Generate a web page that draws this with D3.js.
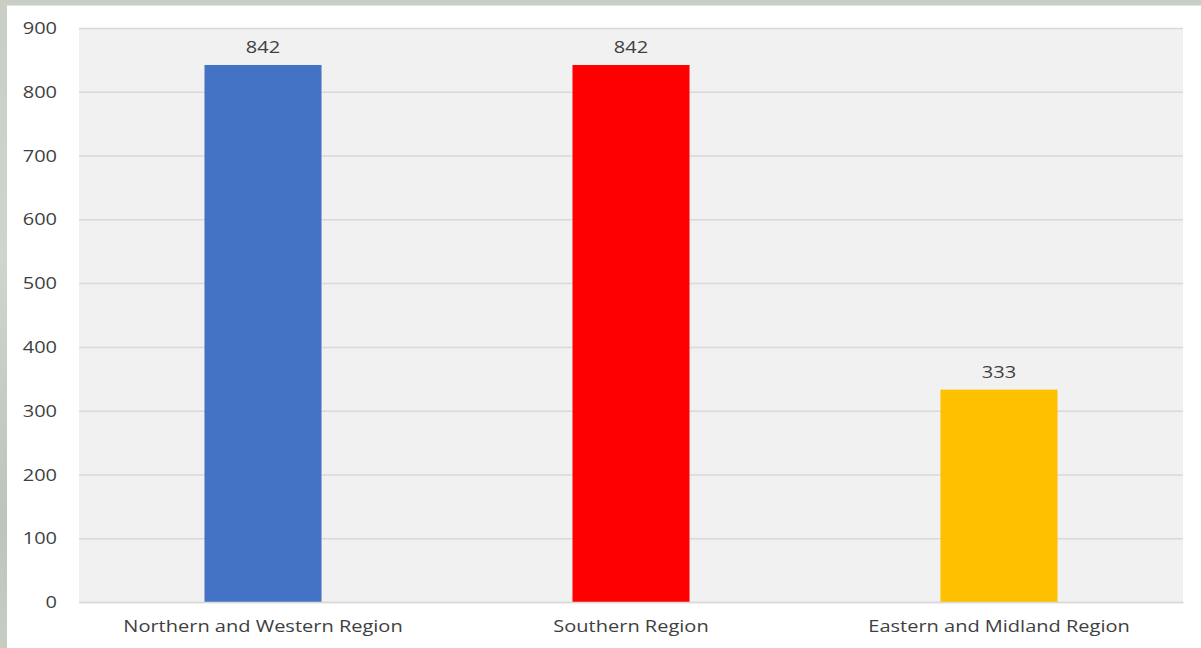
<!DOCTYPE html>
<html><head><meta charset="utf-8">
<script src="https://cdn.jsdelivr.net/npm/d3@7"></script>
<style>html,body{margin:0;padding:0;background:#fff;}svg{display:block;}</style>
</head><body>
<svg id="c" width="1201" height="648"></svg>
<script>
const categories = ["Northern and Western Region", "Southern Region", "Eastern and Midland Region"];
const values = [842, 842, 333];
const colors = ["#4472c4", "#ff0000", "#ffc000"];
const yTicks = [0, 100, 200, 300, 400, 500, 600, 700, 800, 900];

const svg = d3.select("#c");
const W = 1201, H = 648;
const m = {left: 79, right: 1183, top: 28, bottom: 602};
const SX = 1.25; // horizontal stretch of the text as seen in the reference
const FONT = "'Open Sans', sans-serif";

// photo-like border background
const defs = svg.append("defs");
const g1 = defs.append("linearGradient").attr("id","bg").attr("x1","0").attr("x2","0").attr("y1","0").attr("y2","1");
g1.append("stop").attr("offset","0").attr("stop-color","#c9cec5");
g1.append("stop").attr("offset","0.4").attr("stop-color","#cfd5cb");
g1.append("stop").attr("offset","0.8").attr("stop-color","#bfc4bb");
g1.append("stop").attr("offset","1").attr("stop-color","#c8cdc3");
svg.append("rect").attr("x",0).attr("y",0).attr("width",W).attr("height",H).attr("fill","url(#bg)");
svg.append("rect").attr("x",7).attr("y",5).attr("width",W-7).attr("height",H-5).attr("fill","#ffffff");
svg.append("line").attr("x1",7).attr("x2",W).attr("y1",5.5).attr("y2",5.5).attr("stroke","#e2e2e2").attr("stroke-width",1);

const x = d3.scaleBand().domain(categories).range([m.left, m.right]).paddingInner(0.682).paddingOuter(0.341);
const y = d3.scaleLinear().domain([0, 900]).range([m.bottom, m.top]);

svg.append("rect").attr("x", m.left).attr("y", m.top).attr("width", m.right - m.left).attr("height", m.bottom - m.top).attr("fill", "#f1f1f1");

// gridlines + y labels
const yAxis = d3.axisLeft(y).tickValues(yTicks).tickSize(-(m.right - m.left)).tickPadding(22).tickFormat(d3.format("d"));
const ga = svg.append("g").attr("transform", `translate(${m.left},0)`).call(yAxis);
ga.select(".domain").remove();
ga.selectAll(".tick line").attr("stroke", "#d9d9d9").attr("stroke-width", 1.5);
ga.selectAll(".tick text")
  .attr("x", -22 / SX)
  .attr("transform", `scale(${SX},1)`)
  .attr("fill", "#3f3f3f").style("font-family", FONT).style("font-size", "16px").attr("dy", "0.35em");

// bars
svg.append("g").selectAll("rect").data(values).join("rect")
  .attr("x", (d,i) => x(categories[i]))
  .attr("y", d => y(d))
  .attr("width", x.bandwidth())
  .attr("height", d => y(0) - y(d))
  .attr("fill", (d,i) => colors[i]);

// data labels
svg.append("g").selectAll("text").data(values).join("text")
  .attr("transform", (d,i) => `translate(${x(categories[i]) + x.bandwidth()/2},${y(d) - 12}) scale(${SX},1)`)
  .attr("text-anchor", "middle")
  .attr("fill", "#3f3f3f")
  .style("font-family", FONT).style("font-size", "16px")
  .text(d => d);

// x axis
const xAxis = d3.axisBottom(x).tickSize(0).tickPadding(19);
const gx = svg.append("g").attr("transform", `translate(0,${m.bottom})`).call(xAxis);
gx.select(".domain").attr("stroke", "#d9d9d9").attr("stroke-width", 1.5);
gx.selectAll(".tick text")
  .attr("transform", `scale(${SX},1)`)
  .attr("fill", "#3f3f3f").style("font-family", FONT).style("font-size", "16px");
</script>
</body></html>
